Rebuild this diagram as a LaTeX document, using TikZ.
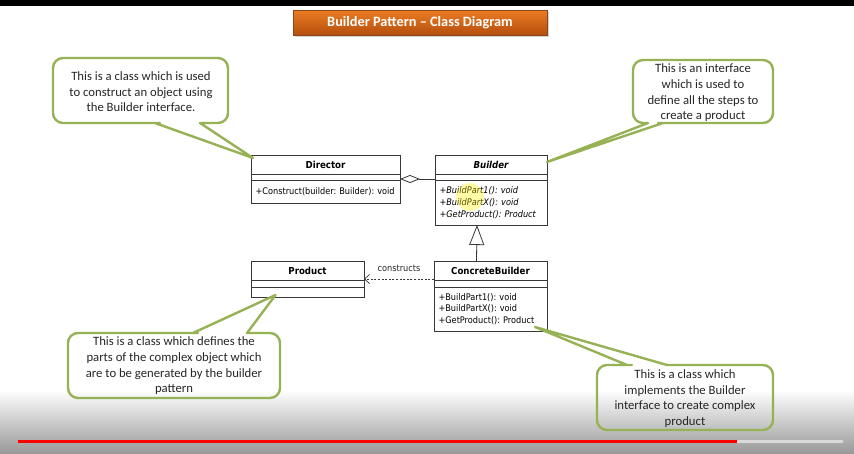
\documentclass[tikz,border=0pt]{standalone}
\usepackage{fontspec}
\setmainfont{Carlito}
\newfontfamily\umlfont{DejaVu Sans Condensed}
\usetikzlibrary{arrows.meta,shadows}
\definecolor{calloutgreen}{RGB}{150,178,84}
\definecolor{umlgray}{RGB}{55,55,55}
\definecolor{orangetop}{RGB}{236,125,35}
\definecolor{orangebot}{RGB}{180,78,14}
\definecolor{orangeedge}{RGB}{140,70,30}
\begin{document}
\frenchspacing
\begin{tikzpicture}[x=1pt,y=-1pt,
  umlbox/.style={draw=umlgray, line width=0.9pt, anchor=north west, inner sep=0pt, outer sep=0pt, minimum width=#1},
  hdr/.style={umlbox=#1, minimum height=19pt, font=\umlfont\bfseries\fontsize{9.6}{11}\selectfont},
  att/.style={umlbox=#1},
  opsbox/.style={umlbox=#1, inner xsep=4.5pt, inner ysep=0pt, align=left, font=\umlfont\fontsize{9.1}{11.8}\selectfont},
  assoc/.style={draw=umlgray, line width=0.8pt},
  callout/.style={draw=calloutgreen, line width=2.4pt, line join=round},
  notetext/.style={align=center, font=\fontsize{12.7}{15.6}\selectfont, text=black!85},
  titlebox/.style={draw=orangeedge, line width=0.6pt, top color=orangetop, bottom color=orangebot,
    minimum width=254pt, minimum height=25pt, inner sep=0pt, text=white,
    font=\bfseries\fontsize{14.3}{16}\selectfont, drop shadow={shadow xshift=1.5pt, shadow yshift=-2pt, opacity=0.35}}
]
\useasboundingbox (0,0) rectangle (854,453);
\fill[white] (0,0) rectangle (854,453);
\shade[top color=white, bottom color={rgb,1:red,0.6;green,0.6;blue,0.6}] (0,390) rectangle (854,453);
\fill[black] (0,0) rectangle (854,6);

% title
\node[titlebox] (title) at (420,22.5) {Builder Pattern -- Class Diagram};

% Director
\node[hdr=149pt] (dirhead) at (251,155) {Director};
\node[att=149pt, minimum height=6pt] (dirattr) at (dirhead.south west) {};
\node[opsbox=149pt, text width=140pt, minimum height=23pt] (dirops) at (dirattr.south west) {+Construct(builder: Builder): void};

% Builder
\node[hdr=112pt, font=\umlfont\bfseries\itshape\fontsize{9.6}{11}\selectfont] (bldhead) at (435,155) {Builder};
\node[att=112pt, minimum height=6pt] (bldattr) at (bldhead.south west) {};
\node[opsbox=112pt, text width=103pt, minimum height=45pt, font=\umlfont\itshape\fontsize{9.1}{11.8}\selectfont] (bldops) at (bldattr.south west) {+BuildPart1(): void\\+BuildPartX(): void\\+GetProduct(): Product};

% Product
\node[hdr=113pt] (prodhead) at (251,261) {Product};
\node[att=113pt, minimum height=7pt] (prodattr) at (prodhead.south west) {};
\node[att=113pt, minimum height=10pt] (prodops) at (prodattr.south west) {};

% ConcreteBuilder
\node[hdr=113pt] (cbhead) at (434,261) {ConcreteBuilder};
\node[att=113pt, minimum height=7pt] (cbattr) at (cbhead.south west) {};
\node[opsbox=113pt, text width=104pt, minimum height=44pt] (cbops) at (cbattr.south west) {+BuildPart1(): void\\+BuildPartX(): void\\+GetProduct(): Product};

% cursor highlight
\fill[yellow, opacity=0.35] (470,197) circle (14pt);

% connectors
\draw[assoc, -{Diamond[open, length=20pt, width=8pt, line width=0.8pt]}] ([yshift=-2pt]bldattr.west) -- ([yshift=-2pt]dirattr.east);
\draw[assoc, -{Triangle[open, length=20pt, width=15pt, line width=0.8pt]}] ([xshift=-14pt]cbhead.north) -- ([xshift=-14pt]bldops.south);
\draw[assoc, dash pattern=on 2pt off 1.6pt, -{Straight Barb[length=5pt, width=9pt, line width=0.7pt]}] ([yshift=1pt]cbhead.south west) -- node[above=4pt, font=\umlfont\fontsize{9.1}{10}\selectfont, text=black!85] (lbl) {constructs} ([yshift=1pt]prodhead.south east);

% callouts
\draw[callout] (150,123) -- (155,123) -- ([xshift=2pt,yshift=-3pt]dirhead.north west) -- (200,123) -- (205,123)
  [rounded corners=10pt] -- (228,123) -- (228,58) -- (53,58) -- (53,123) -- cycle;
\node[notetext] (note1) at (141,92) {This is a class which is used\\to construct an object using\\the Builder interface.};

\draw[callout] (668,123) -- (663,123) -- ([yshift=-7pt]bldhead.north east) -- (648,123) -- (643,123)
  [rounded corners=10pt] -- (633,123) -- (633,60) -- (773,60) -- (773,123) -- cycle;
\node[notetext] (note2) at (703,93) {This is an interface\\which is used to\\define all the steps to\\create a product};

\draw[callout] (188,333) -- (193,333) -- ([xshift=-32pt,yshift=2pt]prodops.south) -- (247,333) -- (252,333)
  [rounded corners=10pt] -- (280,333) -- (280,398) -- (68,398) -- (68,333) -- cycle;
\node[notetext] (note3) at (174,366) {This is a class which defines the\\parts of the complex object which\\are to be generated by the builder\\pattern};

\draw[callout] (622,365) -- (627,365) -- ([xshift=-12pt,yshift=4pt]cbops.south east) -- (667,365) -- (672,365)
  [rounded corners=10pt] -- (773,365) -- (773,430) -- (597,430) -- (597,365) -- cycle;
\node[notetext] (note4) at (685,398.5) {This is a class which\\implements the Builder\\interface to create complex\\product};

% progress bar
\fill[red] (18,440) rectangle (737,443);
\fill[gray!30] (737,440) rectangle (843,443);
\end{tikzpicture}
\end{document}
